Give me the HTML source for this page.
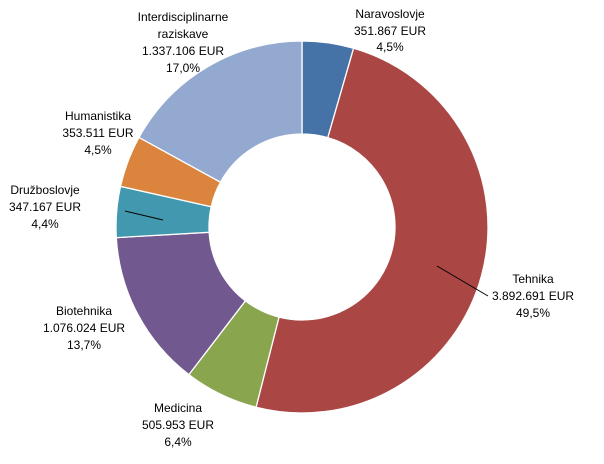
<!DOCTYPE html>
<html><head><meta charset="utf-8"><style>
html,body{margin:0;padding:0;background:#fff;}
svg text{font-family:"Liberation Sans",sans-serif;font-size:12px;fill:#000;text-anchor:middle;}
</style></head><body>
<svg id="s" width="604" height="459" xmlns="http://www.w3.org/2000/svg">
<g id="arcs"></g>
<line x1="437" y1="266" x2="488" y2="296" stroke="#000" stroke-width="1"/>
<line x1="125" y1="211" x2="163" y2="220" stroke="#000" stroke-width="1"/>
<text x="390" y="18">Naravoslovje</text><text x="390" y="35">351.867 EUR</text><text x="390" y="51">4,5%</text>
<text x="183" y="21">Interdisciplinarne</text><text x="183" y="38">raziskave</text><text x="183" y="55">1.337.106 EUR</text><text x="183" y="72">17,0%</text>
<text x="98" y="120">Humanistika</text><text x="98" y="137">353.511 EUR</text><text x="98" y="154">4,5%</text>
<text x="45" y="194">Družboslovje</text><text x="45" y="211">347.167 EUR</text><text x="45" y="228">4,4%</text>
<text x="84" y="315">Biotehnika</text><text x="84" y="332">1.076.024 EUR</text><text x="84" y="349">13,7%</text>
<text x="178" y="412">Medicina</text><text x="178" y="429">505.953 EUR</text><text x="178" y="446">6,4%</text>
<text x="533" y="283">Tehnika</text><text x="533" y="300">3.892.691 EUR</text><text x="533" y="317">49,5%</text>
</svg>
<script>
var v=[351867,3892691,505953,1076024,347167,353511,1337106];
var c=["#4572A7","#AA4643","#89A54E","#71588F","#4198AF","#DB843D","#93A9CF"];
var t=v.reduce(function(a,b){return a+b},0),cx=302,cy=227,R=186,r=93,a=0,h="";
function p(rad,ang){return [cx+rad*Math.sin(ang),cy-rad*Math.cos(ang)];}
for(var i=0;i<v.length;i++){var b=a+v[i]/t*2*Math.PI,l=(b-a)>Math.PI?1:0;
var p1=p(R,a),p2=p(R,b),p3=p(r,b),p4=p(r,a);
h+='<path d="M'+p1+' A'+R+','+R+' 0 '+l+' 1 '+p2+' L'+p3+' A'+r+','+r+' 0 '+l+' 0 '+p4+' Z" fill="'+c[i]+'" stroke="#fff" stroke-width="1.3"/>';a=b;}
document.getElementById("arcs").innerHTML=h;
</script>
</body></html>
